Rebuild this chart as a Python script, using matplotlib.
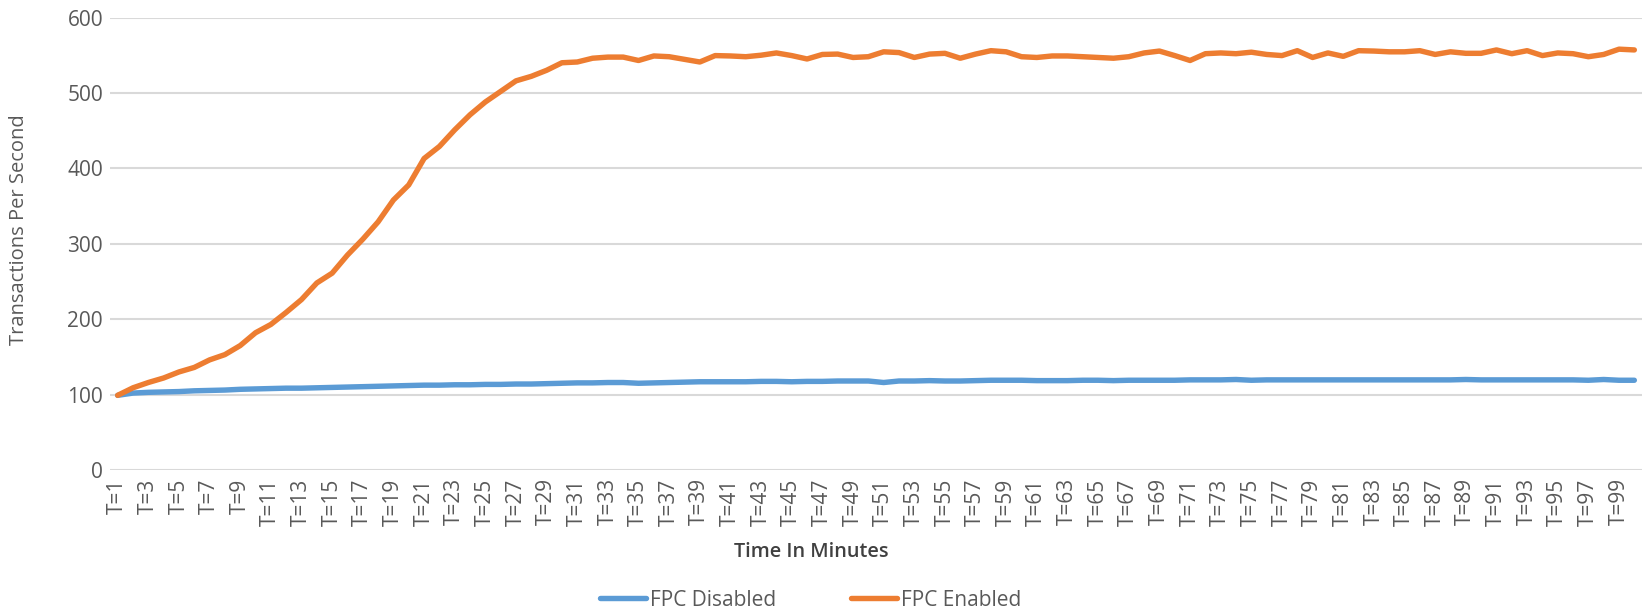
import matplotlib
matplotlib.use("Agg")
import matplotlib.pyplot as plt
import numpy as np

plt.rcParams['font.family'] = ['Open Sans', 'DejaVu Sans']

# minutes T=1 .. T=100
minutes = [f"T={i}" for i in range(1, 101)]

fpc_disabled = [
    99, 102, 103, 103.5, 104, 105, 105.5, 106, 107, 107.5,
    108, 108.5, 108.5, 109, 109.5, 110, 110.5, 111, 111.5, 112,
    112.5, 112.5, 113, 113, 113.5, 113.5, 114, 114, 114.5, 115,
    115.5, 115.5, 116, 116, 115, 115.5, 116, 116.5, 117, 117,
    117, 117, 117.5, 117.5, 117, 117.5, 117.5, 118, 118, 118,
    116, 118, 118, 118.5, 118, 118, 118.5, 119, 119, 119,
    118.5, 118.5, 118.5, 119, 119, 118.5, 119, 119, 119, 119,
    119.5, 119.5, 119.5, 120, 119, 119.5, 119.5, 119.5, 119.5, 119.5,
    119.5, 119.5, 119.5, 119.5, 119.5, 119.5, 119.5, 119.5, 120, 119.5,
    119.5, 119.5, 119.5, 119.5, 119.5, 119.5, 119, 120, 119, 119,
]

fpc_enabled = [
    99, 109, 116, 122, 130, 136, 146, 153, 165, 182,
    193, 209, 226, 248, 261, 285, 306, 329, 358, 378,
    413, 429, 451, 471, 488, 502, 516, 522, 530, 540,
    541, 546, 547.5, 547.5, 543, 549, 548, 544.5, 541, 549.5,
    549, 548, 550, 553, 549.5, 545, 551, 551.5, 547, 548,
    554.5, 553.5, 547, 551.5, 552.5, 546, 551.5, 556, 554.5, 548,
    547, 549, 549, 548, 547, 546, 548, 553, 555.5, 549.5,
    543, 552, 553, 552, 554, 551, 549.5, 556, 547, 553,
    548.5, 556, 555.5, 554.5, 554.5, 556, 551, 554.5, 552.5, 552.5,
    557, 552, 556, 549.5, 553, 552, 548, 551, 558, 557,
]

x = np.arange(1, len(minutes) + 1)

W, H = 1650, 615
fig = plt.figure(figsize=(W / 100, H / 100), dpi=100)
ax = fig.add_axes([110 / W, 1 - 470 / H, (1642 - 110) / W, (470 - 17.5) / H])

grey = '#595959'
ax.plot(x, fpc_disabled, color='#5B9BD5', lw=3.9, solid_capstyle='round',
        label='FPC Disabled', zorder=3)
ax.plot(x, fpc_enabled, color='#ED7D31', lw=3.9, solid_capstyle='round',
        label='FPC Enabled', zorder=3)

ax.set_xlim(0.5, len(minutes) + 0.5)
ax.set_ylim(0, 600)
ax.set_yticks(range(0, 601, 100))
ax.set_xticks(x[::2])
ax.set_xticklabels(minutes[::2], rotation=90)
ax.grid(axis='y', color='#D9D9D9', lw=1.5)
ax.set_axisbelow(True)
for s in ax.spines.values():
    s.set_visible(False)
ax.tick_params(length=0, colors=grey, labelsize=15)
ax.tick_params(axis='y', pad=5)
ax.tick_params(axis='x', pad=6)

fig.text(19 / W, 1 - 230 / H, 'Transactions Per Second', rotation=90,
         ha='center', va='center', color=grey, fontsize=14.5)
fig.text(811 / W, 1 - 552 / H, 'Time In Minutes', ha='center', va='center',
         color='#404040', fontsize=14.3, fontweight='semibold')

fig.legend(loc='center', bbox_to_anchor=(811 / W, 1 - 600 / H), ncol=2,
           frameon=False, fontsize=15, labelcolor=grey, handlelength=2.2,
           columnspacing=3.6, handletextpad=0.2)

fig.savefig('out.png', dpi=100, facecolor='white')
